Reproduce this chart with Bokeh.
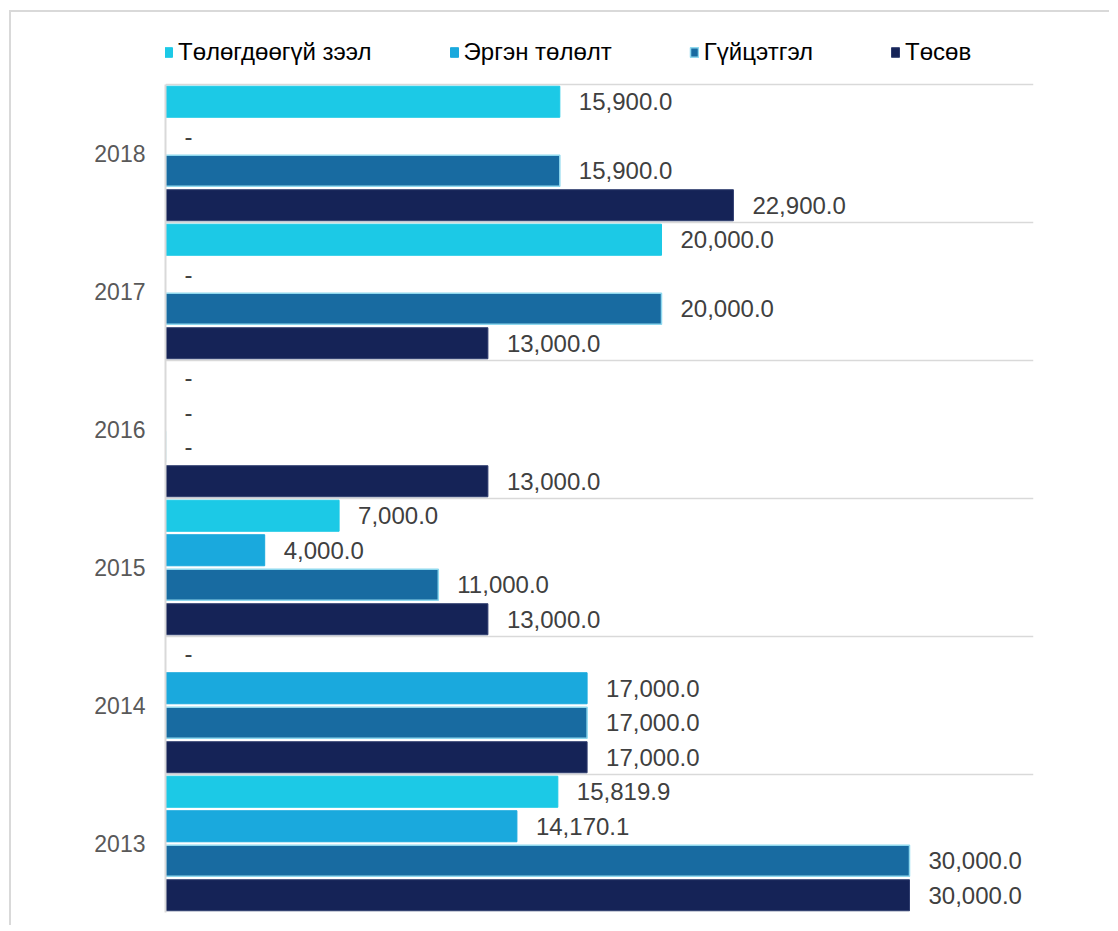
from bokeh.plotting import figure
from bokeh.models import (ColumnDataSource, Range1d, FixedTicker, Legend,
                          LegendItem)
from bokeh.core.properties import value
from bokeh.embed import file_html
from bokeh.resources import INLINE

years = ["2013", "2014", "2015", "2016", "2017", "2018"]
series_names = ["Төлөгдөөгүй зээл", "Эргэн төлөлт", "Гүйцэтгэл", "Төсөв"]
unpaid = [15819.9, 0, 7000.0, 0, 20000.0, 15900.0]
repaid = [14170.1, 17000.0, 4000.0, 0, 0, 0]
actual = [30000.0, 17000.0, 11000.0, 0, 20000.0, 15900.0]
budget = [30000.0, 17000.0, 13000.0, 13000.0, 13000.0, 22900.0]

series_values = [unpaid, repaid, actual, budget]
fill_colors = ["#1CC9E6", "#1AA9DD", "#186BA1", "#152357"]
line_colors = ["#1CC9E6", "#1AA9DD", "#8ED8EE", "#2E3C6E"]
offsets = [0.375, 0.125, -0.125, -0.375]

FONT = "Liberation Sans"

# category slots: each year occupies one unit on the y scale
n = len(years)
centers = [i + 0.5 for i in range(n)]
PLOT_H = 828          # pixel height of the 6 category bands
EXTRA = 50            # room above the bands for the legend
y_end = n * (PLOT_H + EXTRA) / PLOT_H

p = figure(width=1100, height=915, output_backend="svg", toolbar_location=None,
           y_range=Range1d(0, y_end), x_range=Range1d(0, 35000),
           min_border_left=154, min_border_right=78, min_border_top=72 - EXTRA,
           min_border_bottom=15)
p.margin = (10, 0, 0, 9)
p.styles = {"border-top": "2px solid #d9d9d9", "border-left": "2px solid #d9d9d9"}

p.outline_line_color = None
p.background_fill_color = "white"
p.border_fill_color = "white"

p.xaxis.visible = False
p.xgrid.visible = False

p.ygrid.ticker = FixedTicker(ticks=list(range(n + 1)))
p.ygrid.grid_line_color = "#d9d9d9"
p.ygrid.grid_line_width = 1.5
p.ygrid.bounds = (0, 35000)

yax = p.yaxis[0]
yax.ticker = FixedTicker(ticks=centers)
yax.major_label_overrides = {c: y for c, y in zip(centers, years)}
yax.bounds = (0, n)
yax.axis_line_color = "#d9d9d9"
yax.axis_line_width = 2
yax.major_tick_line_color = None
yax.minor_tick_line_color = None
yax.major_tick_in = 0
yax.major_tick_out = 0
yax.major_label_standoff = 20
yax.major_label_text_font = FONT
yax.major_label_text_font_size = "23px"
yax.major_label_text_color = "#595959"

items = []
for name, vals, fc, lc, off in zip(series_names, series_values, fill_colors,
                                   line_colors, offsets):
    labels = [f"{v:,.1f}" if v else "-" for v in vals]
    ys = [c + off for c in centers]
    src = ColumnDataSource(dict(y=ys, val=vals, label=labels))
    r = p.hbar(y="y", right="val", left=0, height=0.225, source=src,
               fill_color=fc, line_color=lc,
               line_width=1.5 if name == "Гүйцэтгэл" else 1)
    p.text(x="val", y="y", text="label", source=src, x_offset=19,
           text_align="left", text_baseline="middle",
           text_font=value(FONT), text_font_size="24px", text_color="#404040")
    items.append(LegendItem(label=name, renderers=[r]))

legend = Legend(items=items, orientation="horizontal", location=(-2, 846),
                padding=0, margin=0, spacing=77, glyph_width=10,
                glyph_height=12, label_standoff=5, label_height=24,
                label_text_font=FONT, label_text_font_size="24px",
                label_text_color="#000000", border_line_color=None,
                background_fill_alpha=0)
p.add_layout(legend)

open("out.html", "w").write(file_html(p, INLINE))
